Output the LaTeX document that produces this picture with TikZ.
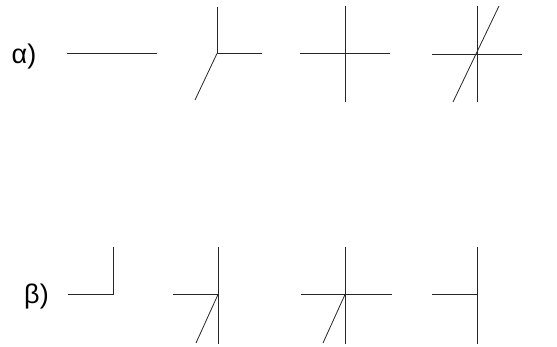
\documentclass[tikz,border=0pt]{standalone}
\usepackage{fontspec}
\setmainfont{Liberation Sans}
\usetikzlibrary{positioning}
\tikzset{
  edge/.style={line width=0.8pt,black!85},
  lbl/.style={font=\fontsize{27pt}{32pt}\selectfont,inner sep=0pt}
}
\begin{document}
\begin{tikzpicture}[x=1pt,y=-1pt]
  \useasboundingbox (0,0) rectangle (557,346);

  % Row alpha
  \node[lbl] (alpha) at (24,57) {α)};
  \coordinate (a1) at (67,53.5);
  \draw[edge] (a1) -- ++(90,0);

  \coordinate (a2) at (217,53.5);
  \draw[edge] (a2) -- ++(0,-47);
  \draw[edge] (a2) -- ++(45,0);
  \draw[edge] (a2) -- ++(-22,46.5);

  \coordinate (a3) at (345,53.5);
  \draw[edge] (a3) ++(-45,0) -- ++(90,0);
  \draw[edge] (a3) ++(0,-47.5) -- ++(0,96);

  \coordinate (a4) at (477,54);
  \draw[edge] (a4) ++(-45,0) -- ++(90,0);
  \draw[edge] (a4) ++(0,-48) -- ++(0,96);
  \draw[edge] (a4) ++(-24,48) -- ++(46,-96);

  % Row beta
  \node[lbl] (beta) at (36.5,297) {β)};
  \coordinate (b1) at (113,294.5);
  \draw[edge] (b1) ++(-45,0) -- (b1) -- ++(0,-47.5);

  \coordinate (b2) at (218,294.5);
  \draw[edge] (b2) -- ++(-45,0);
  \draw[edge] (b2) ++(0,-47.5) -- ++(0,97);
  \draw[edge] (b2) -- ++(-22,48.5);

  \coordinate (b3) at (345,294.5);
  \draw[edge] (b3) ++(-44,0) -- ++(91,0);
  \draw[edge] (b3) ++(0,-47.5) -- ++(0,97);
  \draw[edge] (b3) -- ++(-22,48.5);

  \coordinate (b4) at (477,294.5);
  \draw[edge] (b4) -- ++(-45,0);
  \draw[edge] (b4) ++(0,-47.5) -- ++(0,97);
\end{tikzpicture}
\end{document}
